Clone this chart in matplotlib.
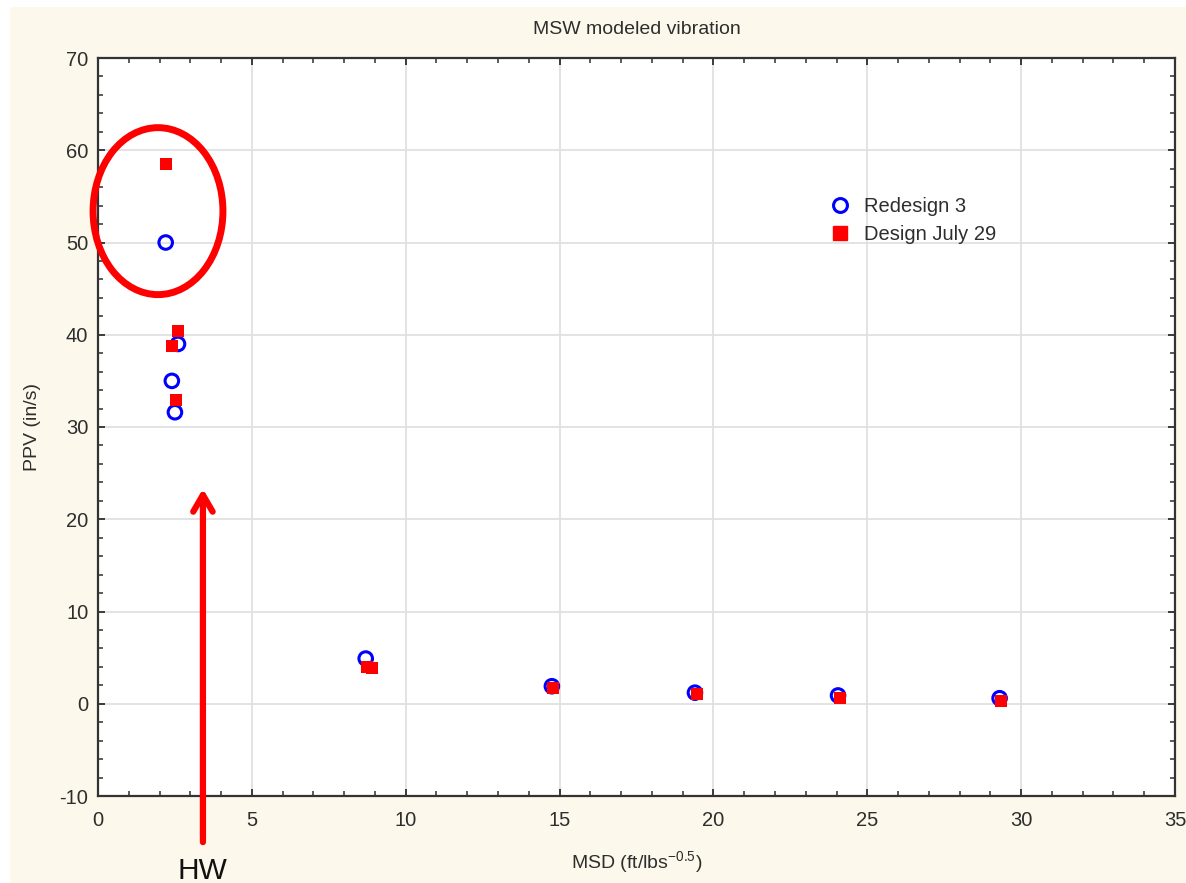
import matplotlib
matplotlib.use("Agg")
import matplotlib.pyplot as plt
from matplotlib.patches import Ellipse, Rectangle
from matplotlib.lines import Line2D
from matplotlib.ticker import MultipleLocator

# Redesign 3 (blue open circles)
redesign_msd = [2.2, 2.6, 2.4, 2.5, 8.7, 14.75, 19.4, 24.05, 29.3]
redesign_ppv = [50.0, 39.0, 35.0, 31.6, 4.9, 1.9, 1.2, 0.9, 0.6]

# Design July 29 (red filled squares)
design_msd = [2.2, 2.6, 2.4, 2.55, 8.75, 8.9, 14.8, 19.45, 24.1, 29.35]
design_ppv = [58.5, 40.4, 38.8, 32.9, 4.0, 3.9, 1.7, 1.1, 0.6, 0.3]

series_labels = ["Redesign 3", "Design July 29"]
title = "MSW modeled vibration"
x_label = r"MSD (ft/lbs$^{\mathregular{-0.5}}$)"
y_label = "PPV (in/s)"

BG = "#fdf8ec"
TXT = "#2e2e2e"

plt.rcParams.update({
    "font.family": ["Liberation Sans", "DejaVu Sans"],
    "font.size": 14,
    "text.color": TXT,
    "axes.labelcolor": TXT,
    "xtick.color": TXT,
    "ytick.color": TXT,
    "axes.unicode_minus": False,
})

fig = plt.figure(figsize=(11.86, 8.83), dpi=100, facecolor=BG)
ax = fig.add_axes([98 / 1186, 87 / 883, 1077 / 1186, 738 / 883])
ax.set_facecolor("white")

# white edges of the screenshot
fig.patches.append(Rectangle((0, 0), 10 / 1186, 1, transform=fig.transFigure,
                             facecolor="white", edgecolor="none", zorder=-1))
fig.patches.append(Rectangle((0, 1 - 7 / 883), 1, 7 / 883, transform=fig.transFigure,
                             facecolor="white", edgecolor="none", zorder=-1))

ax.scatter(redesign_msd, redesign_ppv, marker="o", s=95, facecolors="none",
           edgecolors="#0000ff", linewidths=2.2, zorder=3)
ax.scatter(design_msd, design_ppv, marker="s", s=85, color="#ff0000",
           linewidths=0, zorder=4)

ax.set_xlim(0, 35)
ax.set_ylim(-10, 70)
ax.xaxis.set_major_locator(MultipleLocator(5))
ax.xaxis.set_minor_locator(MultipleLocator(1))
ax.yaxis.set_major_locator(MultipleLocator(10))
ax.yaxis.set_minor_locator(MultipleLocator(2))
ax.tick_params(which="both", direction="in", top=True, right=True, labelsize=14.5)
ax.tick_params(which="major", length=5, width=1.3)
ax.tick_params(which="minor", length=3.5, width=1.1)
ax.tick_params(axis="x", pad=11)
ax.tick_params(axis="y", pad=7)
ax.grid(which="major", color="#e0e0e0", lw=1.3)
ax.set_axisbelow(True)
for sp in ax.spines.values():
    sp.set_color("#333333")
    sp.set_linewidth(1.6)

ax.set_title(title, fontsize=14, pad=17)
ax.set_xlabel(x_label, fontsize=14, labelpad=14)
ax.set_ylabel(y_label, fontsize=14, labelpad=13)

handles = [
    Line2D([], [], ls="none", marker="o", ms=10, mfc="none", mec="#0000ff", mew=2.2),
    Line2D([], [], ls="none", marker="s", ms=9.5, color="#ff0000"),
]
ax.legend(handles, series_labels, loc="upper left", bbox_to_anchor=(0.663, 0.836),
          frameon=False, fontsize=14.5, handlelength=1.0, handletextpad=0.7,
          labelspacing=0.45)

# annotation: circled high-wall points and arrow
ax.add_patch(Ellipse((1.95, 53.4), 4.22, 18.1, fill=False, edgecolor="#ff0000",
                     lw=5, clip_on=False, zorder=5))
ax.annotate("", xy=(3.41, 23.6), xytext=(3.41, -15.3),
            arrowprops=dict(arrowstyle="->,head_length=0.6,head_width=0.35",
                            color="#ff0000", lw=4.5, mutation_scale=20),
            annotation_clip=False)
ax.text(3.41, -16.6, "HW", ha="center", va="top", fontsize=21.5, color="#111111",
        clip_on=False)

fig.savefig("out.png", dpi=100, facecolor=BG)
